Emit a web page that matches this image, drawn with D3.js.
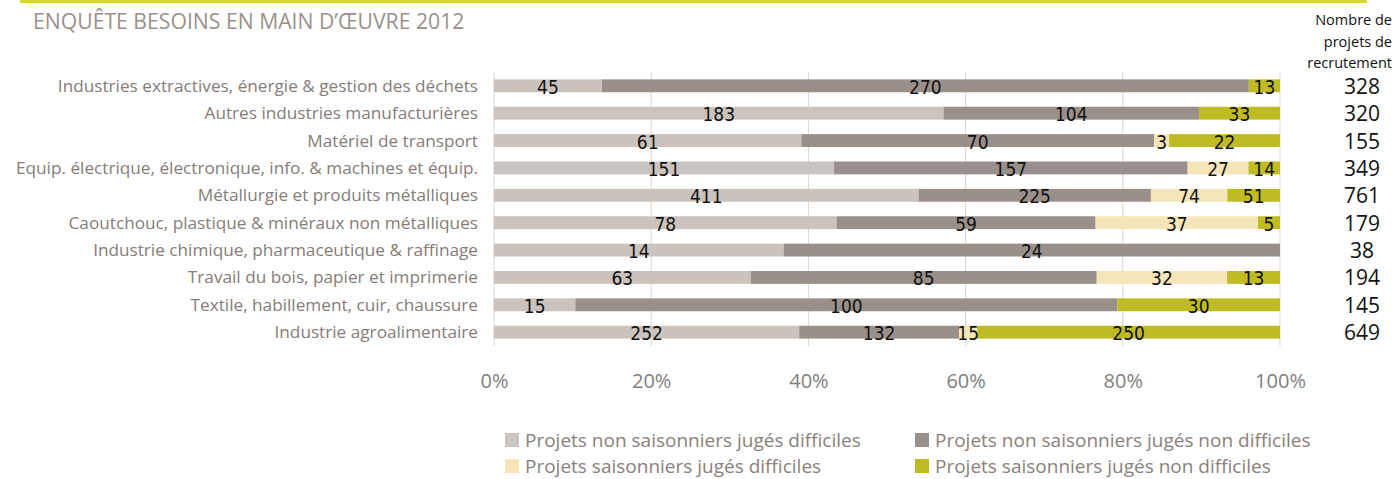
<!DOCTYPE html>
<html>
  <head>
    <meta charset="utf-8">
    <title>Enquête besoins en main d'oeuvre 2012</title>
    <script src="https://cdn.jsdelivr.net/npm/d3@7/dist/d3.min.js"></script>
    <style>
      body { margin: 0; background: #fff; }
      svg { display: block; }
    </style>
  </head>
  <body>
    <div id="chart"></div>

    <script>
      // Sectors, top to bottom
      const categories = [
        'Industries extractives, énergie & gestion des déchets',
        'Autres industries manufacturières',
        'Matériel de transport',
        'Equip. électrique, électronique, info. & machines et équip.',
        'Métallurgie et produits métalliques',
        'Caoutchouc, plastique & minéraux non métalliques',
        'Industrie chimique, pharmaceutique & raffinage',
        'Travail du bois, papier et imprimerie ',
        'Textile, habillement, cuir, chaussure',
        'Industrie agroalimentaire'
      ];

      // number of projects per series
      const nonSaisDifficiles = [45, 183, 61, 151, 411, 78, 14, 63, 15, 252];
      const nonSaisNonDifficiles = [270, 104, 70, 157, 225, 59, 24, 85, 100, 132];
      const saisDifficiles = [0, 0, 3, 27, 74, 37, 0, 32, 0, 15];
      const saisNonDifficiles = [13, 33, 22, 14, 51, 5, 0, 13, 30, 250];

      const totals = [328, 320, 155, 349, 761, 179, 38, 194, 145, 649];

      const seriesNames = [
        'Projets non saisonniers jugés difficiles',
        'Projets non saisonniers jugés non difficiles',
        'Projets saisonniers jugés difficiles',
        'Projets saisonniers jugés non difficiles'
      ];
      const seriesValues = [nonSaisDifficiles, nonSaisNonDifficiles, saisDifficiles, saisNonDifficiles];
      const colors = ['#cbc3be', '#9a908b', '#f6e5b9', '#bfbb22'];

      const tickValues = [0, 0.2, 0.4, 0.6, 0.8, 1];

      const W = 1396, H = 479;
      const svg = d3.select('#chart').append('svg')
        .attr('width', W)
        .attr('height', H);

      // table for stacking, normalised per row
      const keys = seriesNames.map((d, i) => 's' + i);
      const rows = categories.map((c, r) => {
        const o = { cat: c };
        const sum = d3.sum(seriesValues, s => s[r]);
        keys.forEach((k, i) => { o[k] = seriesValues[i][r] / sum; o['v' + k] = seriesValues[i][r]; });
        return o;
      });
      const stacked = d3.stack().keys(keys)(rows);

      const x = d3.scaleLinear().domain([0, 1]).range([494, 1280]);
      const y = d3.scaleBand().domain(categories).range([72, 346])
        .paddingInner(0.53).paddingOuter(0.27);

      // top rule
      svg.append('rect')
        .attr('x', 20).attr('y', 0)
        .attr('width', 1347).attr('height', 3)
        .attr('fill', '#d6d92c');

      svg.append('text')
        .attr('x', 33).attr('y', 29)
        .attr('font-family', 'Open Sans')
        .attr('font-size', 21.2)
        .attr('fill', '#9a918c')
        .text('ENQUÊTE BESOINS EN MAIN D’ŒUVRE 2012');

      // grid
      svg.append('g')
        .selectAll('line')
        .data(tickValues)
        .join('line')
        .attr('x1', d => x(d)).attr('x2', d => x(d))
        .attr('y1', 72).attr('y2', 346)
        .attr('stroke', '#ddd5d1')
        .attr('stroke-width', 1);

      // bars
      svg.append('g')
        .selectAll('g')
        .data(stacked)
        .join('g')
        .attr('fill', (d, i) => colors[i])
        .selectAll('rect')
        .data(d => d)
        .join('rect')
        .attr('x', d => x(d[0]))
        .attr('y', d => y(d.data.cat))
        .attr('width', d => x(d[1]) - x(d[0]))
        .attr('height', y.bandwidth());

      // value labels
      svg.append('g')
        .selectAll('g')
        .data(stacked)
        .join('g')
        .selectAll('text')
        .data(d => d.map(p => ({ p, key: d.key })).filter(o => o.p.data['v' + o.key] > 0))
        .join('text')
        .attr('x', o => (x(o.p[0]) + x(o.p[1])) / 2)
        .attr('y', o => y(o.p.data.cat) + y.bandwidth() / 2 + 8)
        .attr('text-anchor', 'middle')
        .attr('font-family', 'DejaVu Sans Condensed, sans-serif')
        .attr('font-stretch', 'condensed')
        .attr('font-size', 19)
        .attr('fill', '#111')
        .text(o => o.p.data['v' + o.key]);

      // category labels
      svg.append('g')
        .selectAll('text')
        .data(categories)
        .join('text')
        .attr('x', 478)
        .attr('y', d => y(d) + y.bandwidth() / 2)
        .attr('dy', '0.35em')
        .attr('text-anchor', 'end')
        .attr('font-family', 'Open Sans')
        .attr('font-size', 17.2)
        .attr('fill', '#857d79')
        .text(d => d);

      // x axis
      const xAxis = svg.append('g')
        .attr('transform', 'translate(0,371)')
        .call(d3.axisBottom(x).tickValues(tickValues).tickFormat(d3.format('.0%')).tickSize(0));
      xAxis.select('.domain').remove();
      xAxis.selectAll('text')
        .attr('font-family', 'Open Sans')
        .attr('font-size', 20)
        .attr('fill', '#7f7f7f');

      // totals column
      const header = ['Nombre de', 'projets de', 'recrutement'];
      svg.append('g')
        .selectAll('text')
        .data(header)
        .join('text')
        .attr('x', 1392)
        .attr('y', (d, i) => 25 + i * 21.5)
        .attr('text-anchor', 'end')
        .attr('font-family', 'Open Sans')
        .attr('font-size', 14.5)
        .attr('fill', '#111')
        .text(d => d);

      svg.append('g')
        .selectAll('text')
        .data(totals)
        .join('text')
        .attr('x', 1362)
        .attr('y', (d, i) => y(categories[i]) + y.bandwidth() / 2 + 8)
        .attr('text-anchor', 'middle')
        .attr('font-family', 'Open Sans')
        .attr('font-size', 21)
        .attr('fill', '#111')
        .text(d => d);

      // legend
      const legend = svg.append('g')
        .selectAll('g')
        .data(seriesNames)
        .join('g')
        .attr('transform', (d, i) => `translate(${i % 2 === 0 ? 505 : 915},${i < 2 ? 440 : 466})`);
      legend.append('rect')
        .attr('x', 0).attr('y', -7)
        .attr('width', 14).attr('height', 14)
        .attr('fill', (d, i) => colors[i]);
      legend.append('text')
        .attr('x', 20).attr('y', 0)
        .attr('dy', '0.35em')
        .attr('font-family', 'Open Sans')
        .attr('font-size', 19)
        .attr('fill', '#8a817c')
        .text(d => d);
    </script>
  </body>
</html>
